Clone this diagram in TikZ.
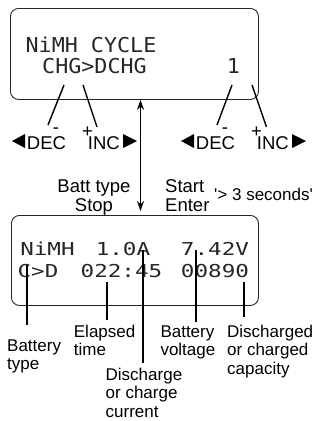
\documentclass[tikz,border=0pt]{standalone}
\usepackage{fontspec}
\setmainfont{Liberation Sans}
\newfontfamily\lcdA[FakeStretch=1.06]{DejaVu Sans Mono}
\newfontfamily\lcdB[FakeStretch=1.27]{DejaVu Sans Mono}
\usetikzlibrary{arrows.meta}
\begin{document}
\begin{tikzpicture}[x=1pt,y=-1pt,
  lcdbox/.style={draw=black!85, line width=0.9pt, rounded corners=8pt, anchor=north west, inner sep=0pt},
  lcdtop/.style={font=\lcdA\fontsize{20.5}{24}\selectfont, text=black!85, inner sep=0pt, anchor=base},
  lcdbot/.style={font=\lcdB\fontsize{17.8}{20}\selectfont, text=black!85, inner sep=0pt, anchor=base},
  btn/.style={font=\fontsize{18.5}{19}\selectfont, inner sep=0pt, anchor=base west},
  sgn/.style={font=\fontsize{18.5}{19}\selectfont, inner sep=0pt, anchor=base},
  lbl/.style={font=\fontsize{17}{18.7}\selectfont, inner sep=0pt, anchor=base west, align=left},
  lead/.style={line width=1.4pt},
  dbl/.style={line width=1.4pt, {Stealth[length=10pt,width=7pt]}-{Stealth[length=10pt,width=7pt]}}]
\useasboundingbox (0,0) rectangle (322,421);

% boxes
\node[lcdbox, minimum width=248pt, minimum height=91pt] (topbox) at (10,8) {};
\node[lcdbox, minimum width=247pt, minimum height=90pt] (botbox) at (11,215) {};

% top display text
\node[lcdtop] (t1) at (91,52) {NiMH CYCLE};
\node[lcdtop] (t2) at (94.5,73) {CHG>DCHG};
\node[lcdtop] (t3) at (233.5,73) {1};

% buttons
\foreach \dx/\s in {0/L,169/R}{
  \node[btn] (dec\s) at (26.7+\dx,149) {DEC};
  \node[btn] (inc\s) at (87.7+\dx,149) {INC};
  \node[sgn] (minus\s) at (56+\dx,133) {-};
  \node[sgn] (plus\s) at (87.5+\dx,137.5) {+};
  \fill (12+\dx,141) -- (25+\dx,134) -- (25+\dx,148) -- cycle;
  \fill (137+\dx,141) -- (123+\dx,134) -- (123+\dx,148) -- cycle;
}
\coordinate (mLa) at (64,85);   \coordinate (mLb) at (48,125);
\coordinate (pLa) at (83,85);   \coordinate (pLb) at (97,127);
\coordinate (mRa) at (232,85);  \coordinate (mRb) at (217,125);
\coordinate (pRa) at (252,85);  \coordinate (pRb) at (266.5,127);
\draw[lead] (mLa) -- (mLb);
\draw[lead] (pLa) -- (pLb);
\draw[lead] (mRa) -- (mRb);
\draw[lead] (pRa) -- (pRb);

% double arrow
\coordinate (ax) at (140.5,0);
\draw[dbl] (topbox.south -| ax) -- ([yshift=4pt]botbox.north -| ax);

\node[btn, align=center, anchor=base] (batt) at (94,211) {Batt type\\Stop};
\node[btn, align=left] (start) at (165,211) {Start\\Enter};
\node[lbl] (secs) at (214,200) {\textquotesingle> 3 seconds\textquotesingle};

% bottom display text
\node[lcdbot] (n1) at (47.5,255) {NiMH};
\node[lcdbot] (n2) at (123,255) {1.0A};
\node[lcdbot] (n3) at (215,255) {7.42V};
\node[lcdbot] (n4) at (38,277) {C>D};
\node[lcdbot] (n5) at (121.5,277) {022:45};
\node[lcdbot] (n6) at (215,277) {00890};

% labels (anchored at the baseline of their last line)
\node[lbl] (lb1) at (7,369.7) {Battery\\type};
\node[lbl] (lb2) at (73.7,355.7) {Elapsed\\time};
\node[lbl] (lb3) at (105.5,417.4) {Discharge\\or charge\\current};
\node[lbl] (lb4) at (160.3,355.7) {Battery\\voltage};
\node[lbl] (lb5) at (227,374.4) {Discharged\\or charged\\capacity};

\coordinate (c1a) at (27,265);  \coordinate (c1b) at (27,325);
\coordinate (c2a) at (107,282); \coordinate (c2b) at (107,320);
\coordinate (c3a) at (143,250); \coordinate (c3b) at (143,363);
\coordinate (c4a) at (196,250); \coordinate (c4b) at (196,322);
\coordinate (c5a) at (244,282); \coordinate (c5b) at (244,317);
\draw[lead] (c1a) -- (c1b);
\draw[lead] (c2a) -- (c2b);
\draw[lead] (c3a) -- (c3b);
\draw[lead] (c4a) -- (c4b);
\draw[lead] (c5a) -- (c5b);
\end{tikzpicture}
\end{document}
